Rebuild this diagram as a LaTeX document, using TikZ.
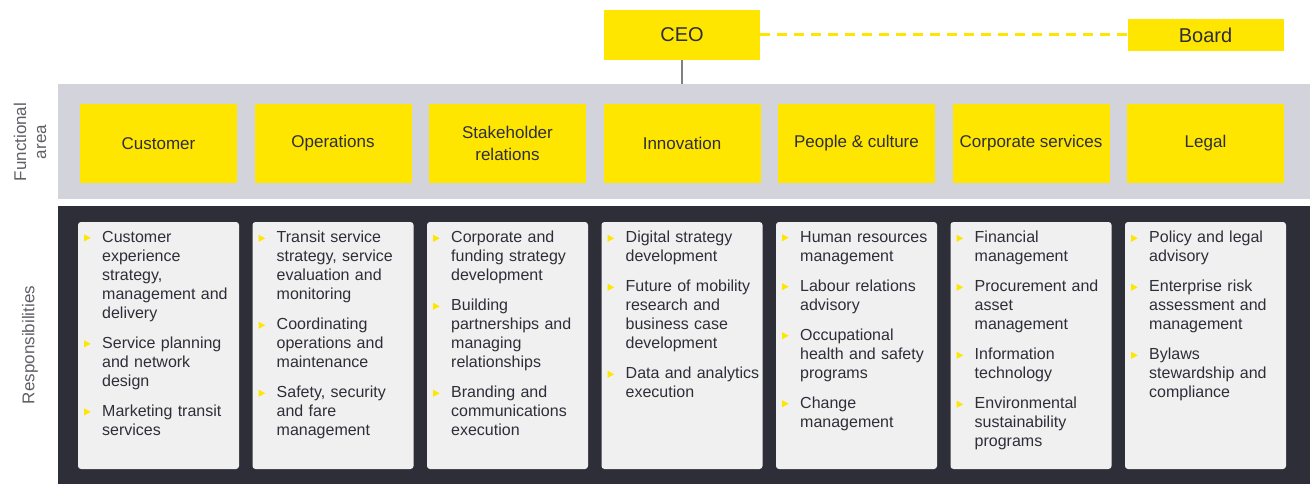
\documentclass[tikz,border=0pt]{standalone}
\usepackage{fontspec}
\setmainfont{Liberation Sans}
\usepackage{xcolor}
\usepackage{tikz}
\usetikzlibrary{
    positioning,
    calc
}
\definecolor{eyyellow}{HTML}{FFE600}
\definecolor{eydark}{HTML}{2E2E38}
\definecolor{bandgray}{HTML}{D2D3DB}
\definecolor{cardgray}{HTML}{F0F0F0}
\definecolor{labelgray}{HTML}{5F5F66}
\definecolor{linegray}{HTML}{808080}

% bullet and one responsibility item
\newcommand{\bul}{\tikz[baseline=0pt]\fill[eyyellow] (0pt,1pt) -- (0pt,8pt) -- (6.5pt,4.5pt) -- cycle;}
\newcommand{\ritem}[1]{\hangindent=18pt\hangafter=1\noindent\makebox[18pt][l]{\bul}#1\par}

\tikzset{
    topbox/.style={
        rectangle, fill=eyyellow, inner sep=0pt, outer sep=0pt,
        minimum width=156pt, text=eydark,
        font=\fontsize{20}{24}\selectfont
    },
    headbox/.style={
        rectangle, fill=eyyellow, inner sep=0pt, outer sep=0pt,
        minimum width=157pt, minimum height=79pt,
        align=center, text=eydark,
        font=\fontsize{17}{22}\selectfont
    },
    card/.style={
        rectangle, fill=cardgray, rounded corners=3pt, outer sep=0pt,
        minimum width=161pt, minimum height=247pt
    },
    resp/.style={
        anchor=north west, inner sep=0pt, text width=158pt,
        align=left, text=eydark,
        font=\fontsize{16}{19}\selectfont,
        execute at begin node={\setlength{\parskip}{11pt}}
    },
    sidelabel/.style={
        rotate=90, align=center, text=labelgray,
        font=\fontsize{17}{20}\selectfont
    },
    ceoline/.style={
        draw=linegray, line width=2pt
    },
    boardline/.style={
        draw=eyyellow, line width=3pt, dash pattern=on 10pt off 7pt
    }
}

\begin{document}
\begin{tikzpicture}[x=1pt, y=-1pt, node distance=39pt and 17.5pt]
	\useasboundingbox (0,0) rectangle (1310,484);
	
	% BANDS
	\node[fill=bandgray, anchor=north west, inner sep=0pt, outer sep=0pt, minimum width=1252pt, minimum height=115pt] (fband) at (58,84) {};
	\node[fill=eydark, anchor=north west, inner sep=0pt, outer sep=0pt, minimum width=1252pt, minimum height=278pt] (rband) at (58,206) {};
	
	% FUNCTIONAL AREAS
	\node[headbox, anchor=north west] (cust) at (80,104) {Customer};
	\node[headbox, right=of cust] (oper) {Operations};
	\node[headbox, right=of oper] (stake) {Stakeholder\\relations};
	\node[headbox, right=of stake] (innov) {Innovation};
	\node[headbox, right=of innov] (people) {People \& culture};
	\node[headbox, right=of people] (corp) {Corporate services};
	\node[headbox, right=of corp] (legal) {Legal};
	
	% CEO AND BOARD
	\node[topbox, minimum height=50pt, above=44pt of innov] (ceo) {CEO};
	\node[topbox, minimum height=32pt, above=53pt of legal] (board) {Board};
	\draw[ceoline] (ceo.south) -- (ceo.south |- fband.north);
	\draw[boardline] (ceo.east) -- (board.west);
	
	% SIDE LABELS
	\node[sidelabel] (funclbl) at (30,142) {Functional\\area};
	\node[sidelabel] (resplbl) at (30,345) {Responsibilities};
	
	% RESPONSIBILITY CARDS
	\node[card, below=of cust] (c1) {};
	\node[card, below=of oper] (c2) {};
	\node[card, below=of stake] (c3) {};
	\node[card, below=of innov] (c4) {};
	\node[card, below=of people] (c5) {};
	\node[card, below=of corp] (c6) {};
	\node[card, below=of legal] (c7) {};
	
	\node[resp] (r1) at ($(c1.north west)+(6,9)$) {
		\ritem{Customer\newline experience\newline strategy,\newline management and\newline delivery}
		\ritem{Service planning\newline and network\newline design}
		\ritem{Marketing transit\newline services}};
	\node[resp] (r2) at ($(c2.north west)+(6,9)$) {
		\ritem{Transit service\newline strategy, service\newline evaluation and\newline monitoring}
		\ritem{Coordinating\newline operations and\newline maintenance}
		\ritem{Safety, security\newline and fare\newline management}};
	\node[resp] (r3) at ($(c3.north west)+(6,9)$) {
		\ritem{Corporate and\newline funding strategy\newline development}
		\ritem{Building\newline partnerships and\newline managing\newline relationships}
		\ritem{Branding and\newline communications\newline execution}};
	\node[resp] (r4) at ($(c4.north west)+(6,9)$) {
		\ritem{Digital strategy\newline development}
		\ritem{Future of mobility\newline research and\newline business case\newline development}
		\ritem{Data and analytics\newline execution}};
	\node[resp] (r5) at ($(c5.north west)+(6,9)$) {
		\ritem{Human resources\newline management}
		\ritem{Labour relations\newline advisory}
		\ritem{Occupational\newline health and safety\newline programs}
		\ritem{Change\newline management}};
	\node[resp] (r6) at ($(c6.north west)+(6,9)$) {
		\ritem{Financial\newline management}
		\ritem{Procurement and\newline asset\newline management}
		\ritem{Information\newline technology}
		\ritem{Environmental\newline sustainability\newline programs}};
	\node[resp] (r7) at ($(c7.north west)+(6,9)$) {
		\ritem{Policy and legal\newline advisory}
		\ritem{Enterprise risk\newline assessment and\newline management}
		\ritem{Bylaws\newline stewardship and\newline compliance}};
	
\end{tikzpicture}
\end{document}
